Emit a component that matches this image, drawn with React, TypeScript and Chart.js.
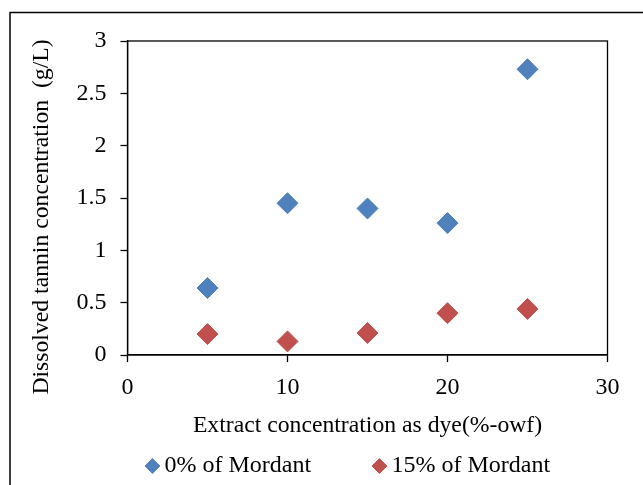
import React, { useEffect, useRef } from "react";
import { Chart, registerables } from "chart.js";

Chart.register(...registerables);

const xValues = [5, 10, 15, 20, 25];
const mordant0 = [0.64, 1.45, 1.40, 1.26, 2.73];
const mordant15 = [0.20, 0.13, 0.21, 0.40, 0.44];
const seriesLabels = ["0% of Mordant", "15% of Mordant"];
const xTitle = "Extract concentration as dye(%-owf)";
const yTitle = "Dissolved tannin concentration  (g/L)";

const FONT = "'Liberation Serif', 'Times New Roman', serif";
const FS = 24;
const FT = 23.7;
const LEGEND_PAD = 9;
const LEGEND_GAP = 68.4;

export default function App() {
  const ref = useRef<HTMLCanvasElement>(null);
  useEffect(() => {
    const frame = {
      id: "frame",
      afterLayout(chart: any) {
        const lg = chart.legend;
        if (!lg) return;
        lg.top = lg.top + LEGEND_PAD - LEGEND_GAP + 3;
        lg.options.labels.padding = LEGEND_GAP;
        lg.left = 84;
        lg.right = chart.width;
      },
      beforeDraw(chart: any) {
        const ctx = chart.ctx;
        ctx.save();
        ctx.fillStyle = "#fff";
        ctx.fillRect(0, 0, chart.width, chart.height);
        ctx.strokeStyle = "#000";
        ctx.lineWidth = 1.5;
        ctx.strokeRect(10, 12.5, 800, 700);
        ctx.restore();
      },
      afterDraw(chart: any) {
        const ctx = chart.ctx;
        const a = chart.chartArea;
        ctx.save();
        ctx.strokeStyle = "#000";
        ctx.lineWidth = 1.3;
        ctx.strokeRect(a.left, a.top, a.right - a.left, a.bottom - a.top);
        ctx.translate(42, 217);
        ctx.rotate(-Math.PI / 2);
        ctx.fillStyle = "#000";
        ctx.font = `${FT}px ${FONT}`;
        ctx.textAlign = "center";
        ctx.textBaseline = "middle";
        ctx.fillText(yTitle, 0, 0);
        ctx.restore();
      },
    };
    const chart = new Chart(ref.current!, {
      type: "scatter",
      data: {
        datasets: [
          {
            label: seriesLabels[0],
            data: xValues.map((x, i) => ({ x, y: mordant0[i] })),
            backgroundColor: "#4F81BD",
            borderColor: "#4F81BD",
            pointStyle: "rectRot",
            pointRadius: 10.5,
            borderWidth: 1,
          },
          {
            label: seriesLabels[1],
            data: xValues.map((x, i) => ({ x, y: mordant15[i] })),
            backgroundColor: "#C0504D",
            borderColor: "#C0504D",
            pointStyle: "rectRot",
            pointRadius: 10.5,
            borderWidth: 1,
          },
        ],
      },
      options: {
        animation: false,
        responsive: false,
        maintainAspectRatio: false,
        layout: { padding: { top: 41, left: 0, right: 35.5, bottom: 0 } },
        plugins: {
          tooltip: { enabled: false },
          legend: {
            position: "bottom",
            align: "start",
            labels: {
              usePointStyle: true,
              boxWidth: 0.01,
              boxHeight: 10.5,
              padding: LEGEND_PAD,
              color: "#000",
              font: { family: FONT, size: FS },
            },
          },
        },
        scales: {
          x: {
            type: "linear",
            min: 0,
            max: 30,
            ticks: { stepSize: 10, color: "#000", padding: 11.5, font: { family: FONT, size: FS } },
            grid: { display: true, drawOnChartArea: false, drawTicks: true, tickLength: 7, tickColor: "#000", tickWidth: 1.3 },
            border: { display: true, color: "#000", width: 1.3 },
            title: { display: true, text: xTitle, color: "#000", padding: { top: 0, bottom: 1.8 }, font: { family: FONT, size: FT } },
            afterFit(scale: any) { scale.height = 87; },
          },
          y: {
            type: "linear",
            min: 0,
            max: 3,
            ticks: {
              stepSize: 0.5,
              color: "#000",
              padding: 14,
              font: { family: FONT, size: FS },
              callback: (v: any) => String(Number(v)),
            },
            grid: { display: true, drawOnChartArea: false, drawTicks: true, tickLength: 7, tickColor: "#000", tickWidth: 1.3 },
            border: { display: true, color: "#000", width: 1.3 },
            afterFit(scale: any) { scale.width = 127.5; },
          },
        },
      },
      plugins: [frame],
    });
    return () => chart.destroy();
  }, []);
  return (
    <div style={{ position: "fixed", left: 0, top: 0, width: 643, height: 485 }}>
      <canvas ref={ref} width={643} height={485} style={{ display: "block" }} />
    </div>
  );
}
